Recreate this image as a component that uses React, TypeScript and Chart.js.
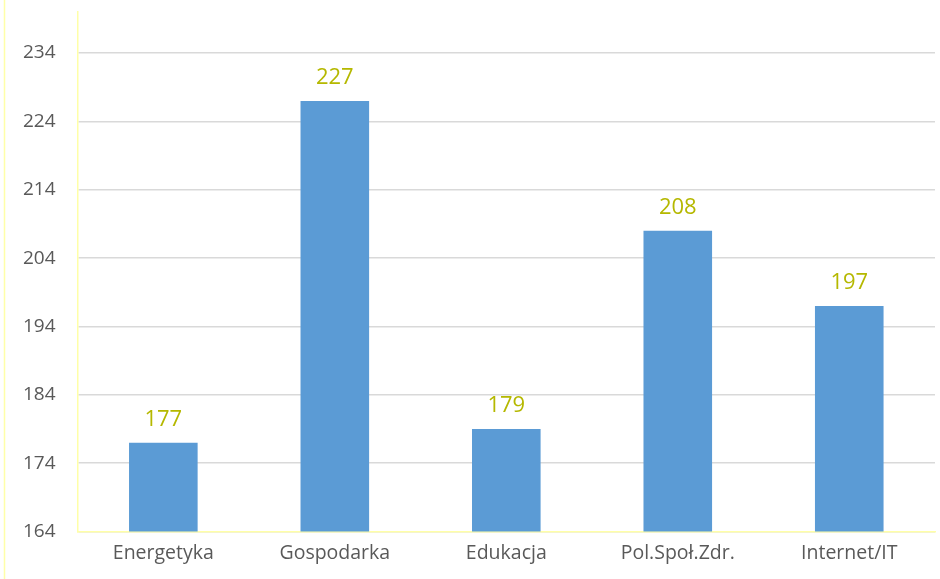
import React, { useEffect, useRef } from "react";
import { Chart, registerables } from "chart.js";

Chart.register(...registerables);

const categories = ["Energetyka", "Gospodarka", "Edukacja", "Pol.Społ.Zdr.", "Internet/IT"];
const values = [177, 227, 179, 208, 197];
const yTicks = [164, 174, 184, 194, 204, 214, 224, 234];
const yMin = 164;
const yMax = 240;

const FONT = "'Open Sans', 'Liberation Sans', sans-serif";

const valueLabels = {
  id: "valueLabels",
  afterDatasetsDraw(chart: any) {
    const ctx = chart.ctx;
    const meta = chart.getDatasetMeta(0);
    ctx.save();
    ctx.font = `22px ${FONT}`;
    ctx.fillStyle = "#B5B800";
    ctx.textAlign = "center";
    ctx.textBaseline = "alphabetic";
    meta.data.forEach((bar: any, i: number) => {
      ctx.fillText(String(values[i]), bar.x, bar.y - 17);
    });
    ctx.restore();
  },
};

const outerBorder = {
  id: "outerBorder",
  beforeDraw(chart: any) {
    const ctx = chart.ctx;
    ctx.save();
    ctx.strokeStyle = "#FFFFA8";
    ctx.lineWidth = 1.5;
    ctx.beginPath();
    ctx.moveTo(4.5, 0);
    ctx.lineTo(4.5, chart.height);
    ctx.stroke();
    ctx.restore();
  },
};

export default function App() {
  const ref = useRef<HTMLCanvasElement>(null);
  useEffect(() => {
    if (!ref.current) return;
    const chart = new Chart(ref.current, {
      type: "bar",
      data: {
        labels: categories,
        datasets: [
          {
            data: values,
            backgroundColor: "#5B9BD5",
            barPercentage: 0.4,
            categoryPercentage: 1,
          },
        ],
      },
      options: {
        animation: false,
        responsive: false,
        maintainAspectRatio: false,
        layout: { padding: { left: 1, right: 5, top: 12, bottom: 4 } },
        plugins: { legend: { display: false }, tooltip: { enabled: false } },
        scales: {
          x: {
            grid: { display: false, drawTicks: false },
            border: { display: true, color: "#FFFFA8", width: 1.5 },
            ticks: { color: "#595959", font: { family: FONT, size: 19.5 }, padding: 10, maxRotation: 0 },
          },
          y: {
            min: yMin,
            max: yMax,
            afterBuildTicks: (axis: any) => {
              axis.ticks = yTicks.map((v) => ({ value: v }));
            },
            afterFit: (axis: any) => {
              axis.paddingTop = 0;
              axis.paddingBottom = 0;
            },
            grid: { color: "#D9D9D9", lineWidth: 1.5, drawTicks: false },
            border: { display: true, color: "#FFFFA8", width: 1.5 },
            ticks: { color: "#595959", font: { family: FONT, size: 19 }, padding: 22 },
          },
        },
      },
      plugins: [valueLabels, outerBorder],
    });
    return () => chart.destroy();
  }, []);
  return (
    <div style={{ position: "fixed", left: 0, top: 0, width: 940, height: 579, background: "#fff" }}>
      <canvas ref={ref} width={940} height={579} style={{ width: 940, height: 579 }} />
    </div>
  );
}
